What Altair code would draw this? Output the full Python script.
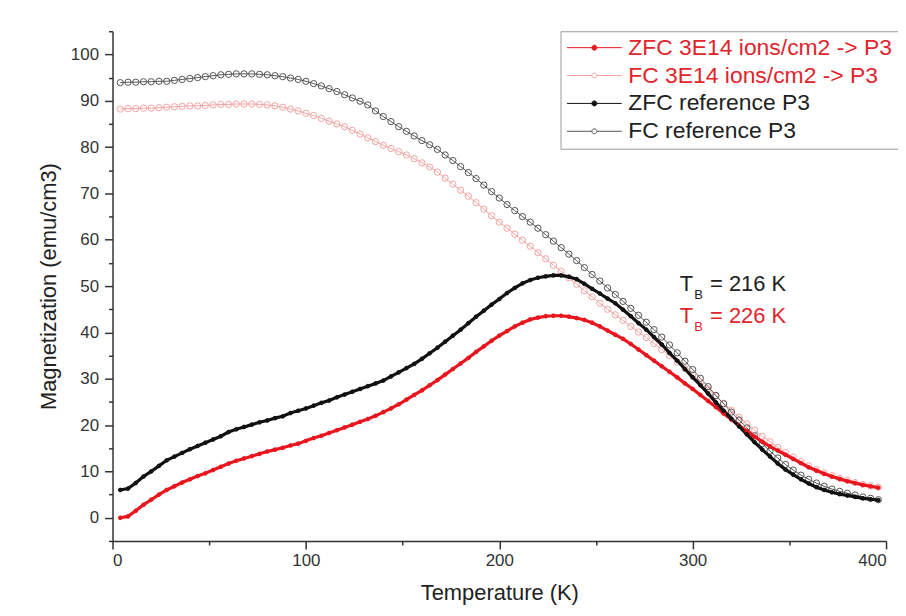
import altair as alt
import pandas as pd

temps = list(range(4, 400, 4))

zfc_ion = [
    0.0, 0.3, 1.5, 2.8, 3.9, 5.0, 6.0, 6.8, 7.6, 8.3,
    9.0, 9.6, 10.3, 11.0, 11.7, 12.3, 12.8, 13.3, 13.8, 14.3,
    14.7, 15.1, 15.6, 16.0, 16.6, 17.2, 17.7, 18.3, 18.9, 19.5,
    20.1, 20.7, 21.3, 22.0, 22.8, 23.6, 24.5, 25.5, 26.5, 27.5,
    28.6, 29.7, 30.9, 32.1, 33.3, 34.5, 35.8, 37.0, 38.2, 39.3,
    40.3, 41.3, 42.1, 42.8, 43.2, 43.5, 43.6, 43.6, 43.4, 43.1,
    42.7, 42.1, 41.3, 40.4, 39.5, 38.6, 37.5, 36.3, 35.1, 33.9,
    32.7, 31.5, 30.3, 29.0, 27.8, 26.5, 25.2, 23.9, 22.5, 21.2,
    19.9, 18.7, 17.5, 16.4, 15.4, 14.5, 13.6, 12.7, 11.8, 10.9,
    10.2, 9.5, 8.9, 8.4, 7.9, 7.5, 7.1, 6.8, 6.5,
]

fc_ion = [
    88.2, 88.3, 88.3, 88.4, 88.4, 88.5, 88.6, 88.7, 88.8, 88.9,
    88.9, 89.0, 89.1, 89.2, 89.2, 89.3, 89.3, 89.3, 89.2, 89.1,
    88.9, 88.6, 88.2, 87.8, 87.3, 86.8, 86.2, 85.6, 85.0, 84.4,
    83.6, 82.8, 82.0, 81.2, 80.4, 79.7, 79.0, 78.3, 77.5, 76.6,
    75.7, 74.6, 73.3, 72.0, 70.7, 69.4, 68.0, 66.6, 65.2, 63.8,
    62.5, 61.2, 59.9, 58.6, 57.2, 55.9, 54.5, 53.2, 51.8, 50.4,
    49.0, 47.7, 46.3, 45.0, 43.8, 42.6, 41.3, 40.1, 38.9, 37.6,
    36.3, 35.0, 33.6, 32.2, 30.8, 29.3, 27.8, 26.3, 24.7, 23.2,
    21.7, 20.3, 18.9, 17.6, 16.4, 15.2, 14.1, 13.1, 12.1, 11.2,
    10.4, 9.7, 9.1, 8.5, 8.1, 7.6, 7.2, 6.9, 6.6,
]

zfc_ref = [
    6.0, 6.3, 7.5, 8.9, 10.0, 11.2, 12.4, 13.2, 14.0, 14.8,
    15.5, 16.2, 16.9, 17.6, 18.5, 19.1, 19.6, 20.1, 20.6, 21.0,
    21.5, 21.9, 22.6, 23.1, 23.6, 24.2, 24.8, 25.3, 26.0, 26.6,
    27.2, 27.8, 28.4, 29.0, 29.6, 30.5, 31.4, 32.3, 33.2, 34.3,
    35.5, 36.7, 38.0, 39.3, 40.6, 42.0, 43.4, 44.7, 46.0, 47.2,
    48.5, 49.6, 50.6, 51.3, 51.8, 52.1, 52.3, 52.3, 52.0, 51.5,
    50.5, 49.4, 48.4, 47.3, 46.3, 44.9, 43.5, 42.0, 40.6, 39.0,
    37.4, 35.6, 33.9, 32.1, 30.3, 28.6, 26.8, 24.9, 23.1, 21.4,
    19.7, 18.0, 16.3, 14.7, 13.2, 11.7, 10.4, 9.3, 8.3, 7.4,
    6.6, 6.0, 5.5, 5.1, 4.8, 4.5, 4.2, 4.0, 3.8,
]

fc_ref = [
    93.9, 94.0, 94.0, 94.1, 94.1, 94.2, 94.2, 94.4, 94.6, 94.8,
    95.0, 95.2, 95.4, 95.6, 95.7, 95.8, 95.8, 95.8, 95.7, 95.6,
    95.4, 95.2, 94.9, 94.6, 94.2, 93.7, 93.2, 92.6, 92.0, 91.3,
    90.6, 89.9, 89.1, 87.8, 86.6, 85.5, 84.4, 83.4, 82.4, 81.4,
    80.5, 79.5, 78.3, 77.1, 75.8, 74.5, 73.2, 71.8, 70.4, 69.0,
    67.6, 66.3, 65.0, 63.8, 62.5, 61.1, 59.7, 58.3, 56.9, 55.5,
    54.0, 52.5, 51.1, 49.6, 48.2, 46.7, 45.2, 43.7, 42.2, 40.6,
    39.0, 37.3, 35.6, 33.8, 32.0, 30.1, 28.3, 26.4, 24.6, 22.8,
    21.1, 19.4, 17.7, 16.0, 14.4, 12.9, 11.5, 10.3, 9.2, 8.3,
    7.5, 6.8, 6.2, 5.7, 5.3, 4.9, 4.5, 4.2, 3.9,
]

series_names = [
    "ZFC 3E14 ions/cm2 -> P3",
    "FC 3E14 ions/cm2 -> P3",
    "ZFC reference P3",
    "FC reference P3",
]
series_values = [zfc_ion, fc_ion, zfc_ref, fc_ref]
series_kind = ["ZFC", "FC", "ZFC", "FC"]
stroke_colors = ["#e8161e", "#f2a2a2", "#111111", "#555555"]
fill_colors = ["#e8161e", "transparent", "#111111", "transparent"]

x_ticks = list(range(0, 401, 50))
y_ticks = list(range(-5, 106, 5))

# annotations (placed in data units)
ann_main_text = ["T", "= 216 K", "T", "= 226 K"]
ann_main_x = [293.3, 309.0, 293.3, 309.0]
ann_main_y = [50.5, 50.5, 43.6, 43.6]
ann_main_color = ["#222222", "#222222", "#e0252d", "#e0252d"]
ann_sub_text = ["B", "B"]
ann_sub_x = [300.8, 300.8]
ann_sub_y = [48.0, 41.1]
ann_sub_color = ["#222222", "#e0252d"]

rows = []
for name, kind, vals in zip(series_names, series_kind, series_values):
    for t, m in zip(temps, vals):
        rows.append({"series": name, "kind": kind, "T": t, "M": m})
df = pd.DataFrame(rows)

ann_main = pd.DataFrame({"text": ann_main_text, "T": ann_main_x, "M": ann_main_y, "c": ann_main_color})
ann_sub = pd.DataFrame({"text": ann_sub_text, "T": ann_sub_x, "M": ann_sub_y, "c": ann_sub_color})

FONT = "Liberation Sans"

x_scale = alt.Scale(domain=[0, 400], nice=False, zero=False)
y_scale = alt.Scale(domain=[-5, 105], nice=False, zero=False)

x_axis = alt.Axis(
    values=x_ticks,
    labelExpr="datum.value % 100 === 0 ? datum.label : ''",
    tickSize={"condition": {"test": "datum.value % 100 === 0", "value": 8}, "value": 4},
    labelPadding=4,
    titlePadding=14,
    labelOverlap=False,
    format="d",
)
y_axis = alt.Axis(
    values=y_ticks,
    labelExpr="datum.value % 10 === 0 ? datum.label : ''",
    tickSize={"condition": {"test": "datum.value % 10 === 0", "value": 8}, "value": 4},
    labelPadding=6,
    titlePadding=10,
    labelOverlap=False,
    format="d",
)

x_enc = alt.X("T:Q", scale=x_scale, axis=x_axis, title="Temperature (K)")
y_enc = alt.Y("M:Q", scale=y_scale, axis=y_axis, title="Magnetization (emu/cm3)")

# legend symbol: a line with a small circle in its middle (drawn to the right of the symbol slot)
sym_path = ("M-1,0L1.5,0M2,0L4.5,0"
            "M1.5,0A0.25,0.25 0 1,1 2,0A0.25,0.25 0 1,1 1.5,0Z")

legend = alt.Legend(
    title=None,
    orient="none",
    legendX=450,
    legendY=0,
    strokeColor="#9a9a9a",
    padding=5,
    rowPadding=4,
    labelFont=FONT,
    labelFontSize=23,
    labelOffset=40,
    labelLimit=400,
    symbolType=sym_path,
    symbolSize=400,
    symbolStrokeWidth=1,
    labelColor={"expr": "indexof(datum.value, '3E14') >= 0 ? '#e0252d' : '#222222'"},
)

stroke_enc = alt.Stroke("series:N", scale=alt.Scale(domain=series_names, range=stroke_colors), legend=legend)
fill_enc = alt.Fill("series:N", scale=alt.Scale(domain=series_names, range=fill_colors), legend=legend)

base = alt.Chart(df)

fc_lines = base.transform_filter(alt.datum.kind == "FC").mark_line(strokeWidth=1).encode(
    x=x_enc, y=y_enc, stroke=stroke_enc, detail="series:N", order="T:Q",
)
zfc_lines = base.transform_filter(alt.datum.kind == "ZFC").mark_line(strokeWidth=3.2).encode(
    x=x_enc, y=y_enc, stroke=stroke_enc, detail="series:N", order="T:Q",
)
fc_points = base.transform_filter(alt.datum.kind == "FC").mark_point(
    filled=True, strokeWidth=1, opacity=1, size=40
).encode(x=x_enc, y=y_enc, stroke=stroke_enc, fill=fill_enc)
zfc_points = base.transform_filter(alt.datum.kind == "ZFC").mark_point(
    filled=True, strokeWidth=1, opacity=1, size=14
).encode(x=x_enc, y=y_enc, stroke=stroke_enc, fill=fill_enc)

main_text = alt.Chart(ann_main).mark_text(font=FONT, fontSize=22, align="left", baseline="middle").encode(
    x=x_enc,
    y=y_enc,
    text="text:N",
    color=alt.Color("c:N", scale=None),
)
sub_text = alt.Chart(ann_sub).mark_text(font=FONT, fontSize=13, align="left", baseline="middle").encode(
    x=x_enc,
    y=y_enc,
    text="text:N",
    color=alt.Color("c:N", scale=None),
)

chart = alt.layer(fc_lines, fc_points, zfc_lines, zfc_points, main_text, sub_text).properties(
    width=777,
    height=512,
    autosize=alt.AutoSizeParams(type="none"),
    padding={"left": 105, "top": 22, "right": 12, "bottom": 64},
    background="white",
).configure_view(stroke=None).configure_axis(
    grid=False,
    domainColor="#333333",
    domainWidth=1.5,
    tickColor="#333333",
    tickWidth=1.5,
    labelFont=FONT,
    labelFontSize=17,
    labelColor="#333333",
    titleFont=FONT,
    titleFontSize=22,
    titleFontWeight="normal",
    titleColor="#222222",
)

chart.save("out.html", embed_options={"renderer": "svg", "actions": False})
